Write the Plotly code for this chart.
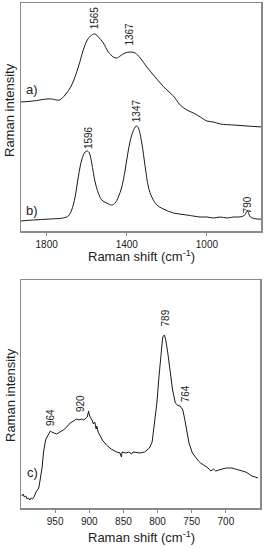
import plotly.graph_objects as go

# ---- Panel (a)/(b): 1928-730 cm-1 ----
a_shift = [1928, 1867, 1800, 1775, 1737, 1708, 1675, 1642, 1617, 1597, 1575, 1558, 1542,
           1517, 1492, 1467, 1450, 1433, 1408, 1383, 1358, 1333, 1300, 1267, 1233, 1200,
           1167, 1133, 1100, 1067, 1033, 1000, 967, 933, 867, 800, 725]
a_int = [129, 130, 132, 132, 131, 136, 146, 164, 181, 191, 196, 197, 194,
         188, 179, 174, 173, 175, 178, 179, 178, 173, 164, 156, 148, 141,
         135, 126, 121, 118, 114, 110, 109, 107, 106, 105, 104]

b_shift = [1928, 1867, 1783, 1717, 1692, 1675, 1658, 1642, 1625, 1608, 1597, 1587, 1575,
           1558, 1542, 1525, 1500, 1475, 1458, 1442, 1425, 1408, 1392, 1375, 1358, 1350,
           1342, 1325, 1308, 1292, 1275, 1250, 1217, 1167, 1100, 1033, 1000, 967, 933,
           900, 867, 842, 817, 805, 798, 792, 783, 750, 725]
b_int = [10, 11, 12, 13, 15, 21, 34, 54, 71, 79, 80, 78, 68,
         49, 38, 31, 28, 26, 28, 34, 44, 61, 81, 96, 104, 105,
         103, 88, 64, 44, 34, 26, 22, 18, 16, 14, 14, 13, 14,
         13, 14, 14, 15, 18, 20, 18, 14, 12, 12]

# ---- Panel (c): 1000-650 cm-1 ----
c_shift = [999, 997, 995, 993, 991, 989, 987, 985, 983, 981, 978, 974, 972, 969, 967,
           964, 961, 957, 955, 952, 948, 943, 938, 933, 928, 923, 919, 915, 911, 908,
           906, 903, 901, 900, 898, 896, 894, 892, 890, 889, 887, 885, 882, 880, 877,
           875, 868, 863, 860, 855, 853, 852, 846, 842, 838, 836, 830, 826, 819, 812,
           808, 805, 801, 798, 795, 792.5, 790, 788, 785, 782, 778, 774, 771, 767, 763,
           760, 757, 754, 749, 744, 740, 737, 733, 730, 726, 722, 718, 715, 711, 708,
           704, 700, 695, 691, 686, 681, 676, 671, 666, 662, 657, 653]
c_int = [12, 14, 11, 12, 9, 10, 8, 10, 9, 11, 16, 20, 28, 41, 56,
         68, 72, 77, 76, 75, 74, 76, 78, 81, 85, 87, 89, 88, 89, 88,
         89, 91, 97, 93, 90, 88, 84, 86, 79, 82, 76, 73, 70, 67, 65,
         63, 59, 57, 56, 55, 51, 56, 55, 56, 54, 56, 55, 55, 56, 60,
         66, 81, 105, 131, 155, 171, 173, 168, 155, 138, 118, 105, 103, 102, 98,
         88, 77, 65, 55, 50, 47, 45, 43, 42, 40, 37, 39, 37, 38, 38,
         39, 40, 40, 40, 39, 38, 37, 36, 34, 32, 31, 30]

top_labels = ["1565", "1367", "1596", "1347", "790"]
top_label_x = [1562, 1391, 1593, 1353, 798]
top_label_y = [213, 197, 93, 120, 26]

bot_labels = ["789", "764", "964", "920"]
bot_label_x = [787, 758, 956, 912]
bot_label_y = [190, 114, 90, 104]

series_names = ["a)", "b)", "c)"]
series_name_x = [1873, 1873, 983]
series_name_y = [142, 21, 35]

x1_ticks = [1800, 1400, 1000]
x2_ticks = [950, 900, 850, 800, 750, 700]

FONT = "Liberation Sans, Arial, sans-serif"
TXT = "#222222"
FRAME = "#8a8a8a"
W, H = 267, 550

fig = go.Figure()
line = dict(color="#1a1a1a", width=1)
fig.add_trace(go.Scatter(x=a_shift, y=a_int, mode="lines", line=line, xaxis="x", yaxis="y",
                         line_shape="spline", showlegend=False))
fig.add_trace(go.Scatter(x=b_shift, y=b_int, mode="lines", line=line, xaxis="x", yaxis="y",
                         line_shape="spline", showlegend=False))
fig.add_trace(go.Scatter(x=c_shift, y=c_int, mode="lines", line=line, xaxis="x2", yaxis="y2",
                         showlegend=False))

axis_common = dict(showline=True, mirror=True, linecolor=FRAME, linewidth=1.5,
                   showgrid=False, zeroline=False)

fig.update_layout(
    width=W, height=H, margin=dict(l=0, r=0, t=0, b=0),
    paper_bgcolor="white", plot_bgcolor="white",
    font=dict(family=FONT, color=TXT, size=10),
    hovermode=False,
    xaxis=dict(domain=[21 / W, 261 / W], range=[1928, 730], anchor="y",
               tickvals=x1_ticks, ticks="outside", ticklen=3, tickcolor=FRAME,
               tickfont=dict(size=10, color=TXT), **axis_common),
    yaxis=dict(domain=[(H - 231) / H, (H - 3) / H], range=[0, 228], anchor="x",
               showticklabels=False, ticks="", **axis_common),
    xaxis2=dict(domain=[21 / W, 260 / W], range=[1000, 650], anchor="y2",
                tickvals=x2_ticks, ticks="outside", ticklen=3, tickcolor=FRAME,
                tickfont=dict(size=10, color=TXT), **axis_common),
    yaxis2=dict(domain=[(H - 508) / H, (H - 280) / H], range=[0, 228], anchor="x2",
                showticklabels=False, ticks="", **axis_common),
)

ann = []
for t, x, y in zip(top_labels, top_label_x, top_label_y):
    ann.append(dict(text=t, x=x, y=y, xref="x", yref="y", textangle=-90, showarrow=False,
                    xanchor="center", yanchor="middle", font=dict(size=10, color=TXT)))
for t, x, y in zip(bot_labels, bot_label_x, bot_label_y):
    ann.append(dict(text=t, x=x, y=y, xref="x2", yref="y2", textangle=-90, showarrow=False,
                    xanchor="center", yanchor="middle", font=dict(size=10, color=TXT)))
for i, (t, x, y) in enumerate(zip(series_names, series_name_x, series_name_y)):
    xr, yr = ("x", "y") if i < 2 else ("x2", "y2")
    ann.append(dict(text=t, x=x, y=y, xref=xr, yref=yr, showarrow=False,
                    xanchor="center", yanchor="middle", font=dict(size=13, color=TXT)))

# axis titles
for ycen in [(H - 110) / H, (H - 395) / H]:
    ann.append(dict(text="Raman intensity", x=10 / W, y=ycen, xref="paper", yref="paper",
                    textangle=-90, showarrow=False, xanchor="center", yanchor="middle",
                    font=dict(size=13, color=TXT)))
for xcen, ycen in [(141 / W, (H - 256) / H), (141 / W, (H - 537) / H)]:
    ann.append(dict(text="Raman shift (cm<sup>-1</sup>)", x=xcen, y=ycen, xref="paper",
                    yref="paper", showarrow=False, xanchor="center", yanchor="middle",
                    font=dict(size=13, color=TXT)))

fig.update_layout(annotations=ann)
fig.write_html("out.html",
               config={"displayModeBar": False, "staticPlot": True},
               post_script="document.body.style.margin='0';document.body.style.padding='0';")
